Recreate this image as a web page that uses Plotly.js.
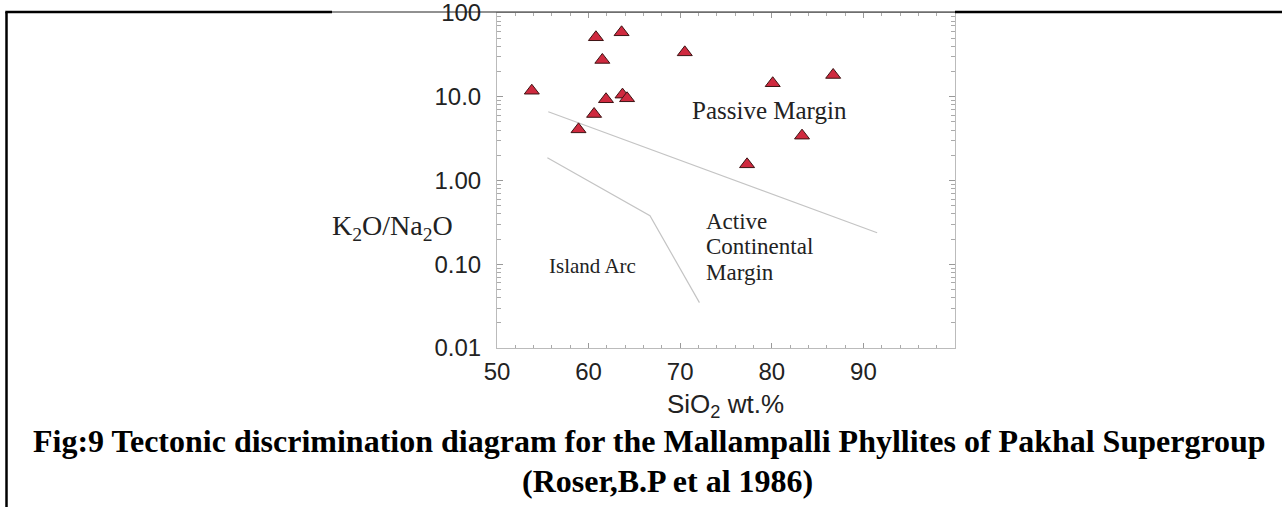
<!DOCTYPE html>
<html>
<head>
<meta charset="utf-8">
<script src="https://cdn.plot.ly/plotly-3.0.1.min.js"></script>
<style>
  html, body { margin: 0; padding: 0; background: #ffffff; }
  #chart { width: 1282px; height: 507px; }
</style>
</head>
<body>
<div id="chart"></div>
<script>
// ---- data ----
const sio2 = [53.8, 60.8, 63.6, 61.5, 70.5, 61.9, 63.7, 64.2, 60.6, 58.9, 80.1, 86.7, 83.3, 77.3];
const k2oNa2o = [11.8, 51.3, 58.8, 27.5, 33.9, 9.33, 10.6, 9.58, 6.22, 4.08, 14.5, 18.2, 3.43, 1.56];

// boundary lines (Roser & Korsch 1986)
const pmAcmX = [55.6, 91.5];
const pmAcmY = [6.63, 0.238];
const arcAcmX = [55.5, 66.7, 72.1];
const arcAcmY = [1.87, 0.38, 0.0348];

const xTickVals = [50, 60, 70, 80, 90];
const xTickText = ['50', '60', '70', '80', '90'];
const yTickVals = [0.01, 0.1, 1, 10, 100];
const yTickText = ['0.01', '0.10', '1.00', '10.0', '100'];
const yDecades = [0.01, 0.1, 1, 10];
const yDigits = [2, 3, 4, 5, 6, 7, 8, 9];
const yMinor = [];
yDecades.forEach(d => yDigits.forEach(k => yMinor.push(+(d * k).toPrecision(3))));

const regionLabels = [
  {text: 'Passive Margin', x: 79.8, y: 6.76, anchor: 'center', size: 25},
  {text: 'Island Arc', x: 60.4, y: 0.0953, anchor: 'center', size: 21},
  {text: 'Active', x: 72.55, y: 0.325, anchor: 'left', size: 23},
  {text: 'Continental', x: 72.55, y: 0.161, anchor: 'left', size: 23},
  {text: 'Margin', x: 72.55, y: 0.080, anchor: 'left', size: 23}
];

const captionLine1 = 'Fig:9 Tectonic discrimination diagram for the Mallampalli Phyllites of Pakhal Supergroup';
const captionLine2 = '(Roser,B.P et al 1986)';
const xTitle = 'SiO<sub>2</sub> wt.%';
const yTitle = 'K<sub>2</sub>O/Na<sub>2</sub>O';

// ---- figure ----
const serif = '"Liberation Serif", "Times New Roman", serif';
const sans = '"Liberation Sans", Arial, sans-serif';
const gridLine = '#c4c4c4';

const traces = [
  {x: pmAcmX, y: pmAcmY, mode: 'lines', type: 'scatter',
   line: {color: gridLine, width: 1.2}, hoverinfo: 'skip'},
  {x: arcAcmX, y: arcAcmY, mode: 'lines', type: 'scatter',
   line: {color: gridLine, width: 1.2}, hoverinfo: 'skip'},
  {x: sio2, y: k2oNa2o, mode: 'markers', type: 'scatter',
   marker: {symbol: 'triangle-up', size: 13, color: '#cf2a3f',
            line: {color: '#3d1414', width: 1}}}
];

const annotations = regionLabels.map(r => ({
  text: r.text, x: r.x, y: Math.log10(r.y), xref: 'x', yref: 'y',
  xanchor: r.anchor, yanchor: 'middle', showarrow: false,
  font: {family: serif, size: r.size, color: '#222'}
}));

annotations.push(
  {text: yTitle, xref: 'paper', yref: 'paper', x: -0.228, y: 0.36,
   xanchor: 'center', yanchor: 'middle', showarrow: false,
   font: {family: serif, size: 28, color: '#222'}},
  {text: xTitle, xref: 'paper', yref: 'paper', x: 0.498, y: -0.172,
   xanchor: 'center', yanchor: 'middle', showarrow: false,
   font: {family: sans, size: 26, color: '#222'}},
  {text: '<b>' + captionLine1 + '</b>', xref: 'paper', yref: 'paper', x: 0.332, y: -0.277,
   xanchor: 'center', yanchor: 'middle', showarrow: false,
   font: {family: serif, size: 32, color: '#000'}},
  {text: '<b>' + captionLine2 + '</b>', xref: 'paper', yref: 'paper', x: 0.373, y: -0.397,
   xanchor: 'center', yanchor: 'middle', showarrow: false,
   font: {family: serif, size: 32, color: '#000'}}
);

const L = 497, R = 955, T = 13, B = 348, W = 1282, H = 507;
const px = v => (v - L) / (R - L);
const py = v => (B - v) / (B - T);

const shapes = [
  {type: 'line', xref: 'paper', yref: 'paper', x0: px(6.5), x1: px(6.5), y0: py(12), y1: py(520),
   line: {color: '#000', width: 2.5}},
  {type: 'line', xref: 'paper', yref: 'paper', x0: px(5.3), x1: px(332), y0: py(12), y1: py(12),
   line: {color: '#000', width: 2.5}},
  {type: 'line', xref: 'paper', yref: 'paper', x0: px(332), x1: px(955), y0: py(12), y1: py(12),
   line: {color: '#222', width: 1}},
  {type: 'line', xref: 'paper', yref: 'paper', x0: px(955), x1: px(1300), y0: py(12), y1: py(12),
   line: {color: '#000', width: 2.5}}
];

const layout = {
  width: W, height: H,
  margin: {l: L, r: W - R, t: T, b: H - B, pad: 0},
  paper_bgcolor: '#ffffff', plot_bgcolor: '#ffffff',
  showlegend: false,
  xaxis: {
    type: 'linear', range: [50, 100],
    tickmode: 'array', tickvals: xTickVals, ticktext: xTickText,
    ticks: 'inside', ticklen: 5, tickwidth: 1, tickcolor: '#999',
    showline: true, linecolor: '#bbb', linewidth: 1, mirror: 'ticks',
    showgrid: false, zeroline: false,
    ticklabelstandoff: 2, ticklabeloverflow: 'allow',
    tickfont: {family: sans, size: 24, color: '#222'},
    minor: {tickmode: 'linear', tick0: 50, dtick: 2, ticks: 'inside', ticklen: 3,
            tickcolor: '#aaa', showgrid: false}
  },
  yaxis: {
    type: 'log', range: [-2, 2],
    tickmode: 'array', tickvals: yTickVals, ticktext: yTickText,
    ticks: 'inside', ticklen: 6, tickwidth: 1, tickcolor: '#999',
    showline: true, linecolor: '#bbb', linewidth: 1, mirror: 'ticks',
    showgrid: false, zeroline: false,
    ticklabelstandoff: 10, ticklabeloverflow: 'allow',
    tickfont: {family: sans, size: 24, color: '#222'},
    minor: {tickmode: 'array', tickvals: yMinor, ticks: 'inside', ticklen: 4,
            tickcolor: '#aaa', showgrid: false}
  },
  annotations: annotations,
  shapes: shapes
};

Plotly.newPlot('chart', traces, layout, {staticPlot: true, displayModeBar: false});
</script>
</body>
</html>
